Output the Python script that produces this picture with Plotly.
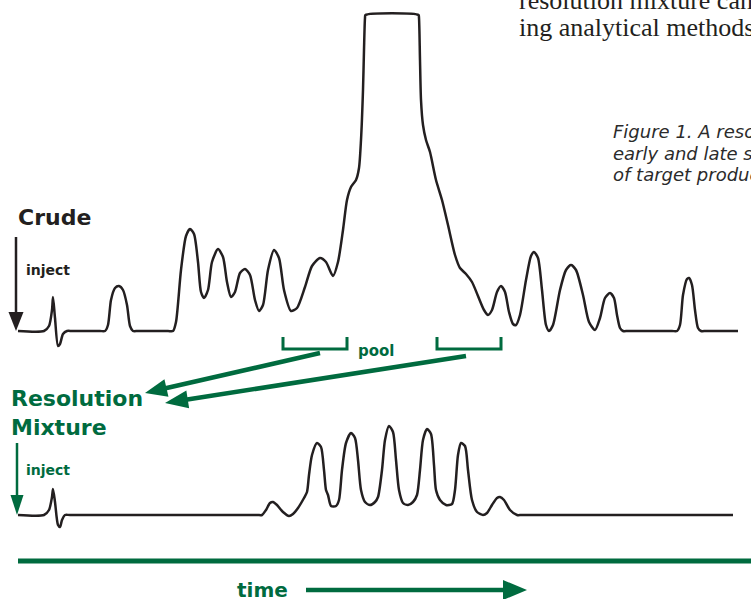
import math
import plotly.graph_objects as go

# ---------------- data (pixel space) ----------------
crude_x = [18, 44, 49, 52, 53, 55, 58, 60, 63, 67, 72,
           100, 105, 108, 111, 115, 119, 123, 127, 130, 133, 138,
           168, 173, 176, 181, 186, 190, 194, 198, 201, 204, 208, 212, 218, 223, 227, 231,
           235, 240, 245, 250, 255, 259, 263, 268, 274, 279, 284, 291, 297, 305, 312,
           320, 326, 333, 338, 343, 347, 351, 356, 359, 361, 363, 364, 365, 365.5,
           418.5, 419, 420, 421, 423, 426, 430, 436, 442, 448, 455, 460, 466, 472, 478, 484,
           488, 492, 497, 501, 505, 509, 513, 516, 520, 526, 531, 534, 538, 542, 546,
           549, 553, 560, 566, 571, 576, 583, 589, 595, 600, 605, 610, 614, 617, 620,
           623, 628, 672, 677, 680, 683, 687, 689, 692, 695, 698, 701, 706, 738]
crude_y = [331, 331, 326, 310, 297, 318, 346, 344, 334, 331, 331,
           331, 331, 325, 300, 288, 286, 290, 305, 326, 331, 331,
           331, 331, 322, 270, 236, 229, 234, 262, 292, 298, 290, 262, 249, 257, 282, 297,
           292, 273, 269, 275, 300, 311, 305, 270, 250, 258, 290, 311, 308, 287, 266,
           258, 262, 276, 262, 230, 200, 187, 180, 168, 140, 90, 50, 18, 15,
           15, 18, 60, 100, 125, 140, 152, 180, 200, 225, 255, 268, 274, 282, 296, 310,
           315, 310, 292, 286, 292, 312, 324, 325, 315, 280, 256, 252, 258, 290, 325,
           331, 325, 290, 270, 265, 270, 295, 322, 330, 318, 298, 293, 298, 315, 328,
           331, 331, 331, 331, 325, 295, 279, 278, 285, 310, 328, 331, 331, 331]

mix_x = [18, 44, 49, 52, 53, 55, 58, 60, 62, 65, 70,
         257, 262, 266, 270, 273, 277, 283, 289, 293, 298, 304, 307, 309, 312, 317, 321,
         324, 326, 328, 331, 336, 339, 342, 346, 351, 355, 358, 361, 365, 370, 375,
         378, 382, 385, 389, 393, 396, 399, 403, 408, 413, 417, 420, 423, 427, 431,
         434, 436, 440, 446, 452, 455, 458, 461, 465, 468, 472, 477, 483, 487, 492,
         497, 500, 504, 510, 517, 522, 733]
mix_y = [515, 515, 510, 497, 489, 502, 525, 527, 520, 515, 515,
         515, 515, 510, 503, 502, 505, 512, 516, 514, 508, 498, 492, 475, 455, 443, 447,
         470, 490, 495, 506, 506, 500, 470, 443, 433, 438, 460, 490, 502, 505, 502,
         497, 470, 440, 426, 432, 460, 490, 503, 505, 502, 495, 470, 440, 429, 434,
         465, 490, 500, 505, 504, 490, 455, 443, 446, 470, 500, 512, 515, 513, 505,
         498, 497, 500, 510, 515, 515, 515]

pool1_x = [283, 283, 347, 347]
pool1_y = [337, 349, 349, 337]
pool2_x = [437, 437, 501, 501]
pool2_y = [337, 349, 349, 337]

time_axis_x = [18, 751]
time_axis_y = [561, 561]

GREEN = "#006b3f"
BLACK = "#231f20"

fig = go.Figure()
fig.add_trace(go.Scatter(x=crude_x, y=crude_y, mode="lines",
                         line=dict(color=BLACK, width=2.5, shape="spline", smoothing=0.7),
                         hoverinfo="skip", showlegend=False))
fig.add_trace(go.Scatter(x=mix_x, y=mix_y, mode="lines",
                         line=dict(color=BLACK, width=2.5, shape="spline", smoothing=0.7),
                         hoverinfo="skip", showlegend=False))
for bx, by in [(pool1_x, pool1_y), (pool2_x, pool2_y)]:
    fig.add_trace(go.Scatter(x=bx, y=by, mode="lines",
                             line=dict(color=GREEN, width=3),
                             hoverinfo="skip", showlegend=False))
fig.add_trace(go.Scatter(x=time_axis_x, y=time_axis_y, mode="lines",
                         line=dict(color=GREEN, width=5),
                         hoverinfo="skip", showlegend=False))

shapes = []


def arrow(x0, y0, x1, y1, color, width, hl, hw):
    dx, dy = x1 - x0, y1 - y0
    L = math.hypot(dx, dy)
    ux, uy = dx / L, dy / L
    bx, by = x1 - ux * hl, y1 - uy * hl
    px, py = -uy, ux
    shapes.append(dict(type="line", x0=x0, y0=y0, x1=bx + ux * 2, y1=by + uy * 2,
                       line=dict(color=color, width=width), layer="above"))
    path = "M{:.2f},{:.2f} L{:.2f},{:.2f} L{:.2f},{:.2f} Z".format(
        x1, y1, bx + px * hw / 2, by + py * hw / 2, bx - px * hw / 2, by - py * hw / 2)
    shapes.append(dict(type="path", path=path, fillcolor=color,
                       line=dict(color=color, width=0), layer="above"))


arrow(16, 237, 16, 331, BLACK, 2.5, 19, 15)
arrow(17, 443, 17, 515, GREEN, 2.5, 20, 13)
arrow(320, 353, 145, 393, GREEN, 4.5, 22, 18)
arrow(466, 356, 165, 403, GREEN, 4.5, 23, 18)
arrow(306, 590, 527, 590, GREEN, 4.5, 24, 20)

SANS = "DejaVu Sans"
ann = []


def txt(x, y, s, size, color, family=SANS, xanchor="left"):
    ann.append(dict(x=x, y=y, text=s, showarrow=False, xanchor=xanchor, yanchor="middle",
                    font=dict(family=family, size=size, color=color), xref="x", yref="y"))


txt(16, 217, "<b>Crude</b>", 22, BLACK)
txt(24, 270, "<b>inject</b>", 14, BLACK)
txt(9, 398, "<b>Resolution</b>", 22, GREEN)
txt(9, 427, "<b>Mixture</b>", 22, GREEN)
txt(24, 470, "<b>inject</b>", 14, GREEN)
txt(356, 351, "<b>pool</b>", 15, GREEN)
txt(235, 590, "<b>time</b>", 20, GREEN)
txt(611, 131, "<i>Figure 1. A resolution</i>", 18, "#2b2b2b")
txt(611, 153, "<i>early and late shoulders</i>", 18, "#2b2b2b")
txt(611, 174, "<i>of target product</i>", 18, "#2b2b2b")
txt(517, 0.5, "resolution mixture can be", 26, BLACK, family="Liberation Serif")
txt(517, 27, "ing analytical methods", 26, BLACK, family="Liberation Serif")

fig.update_layout(
    width=751, height=599,
    margin=dict(l=0, r=0, t=0, b=0),
    paper_bgcolor="white", plot_bgcolor="white",
    xaxis=dict(range=[0, 751], visible=False, fixedrange=True),
    yaxis=dict(range=[599, 0], visible=False, fixedrange=True),
    shapes=shapes, annotations=ann, showlegend=False,
)
# remove the browser's default 8px body margin so the figure fills the window
fig.write_html("out.html", config={"displayModeBar": False},
               post_script="document.body.style.margin='0';")
